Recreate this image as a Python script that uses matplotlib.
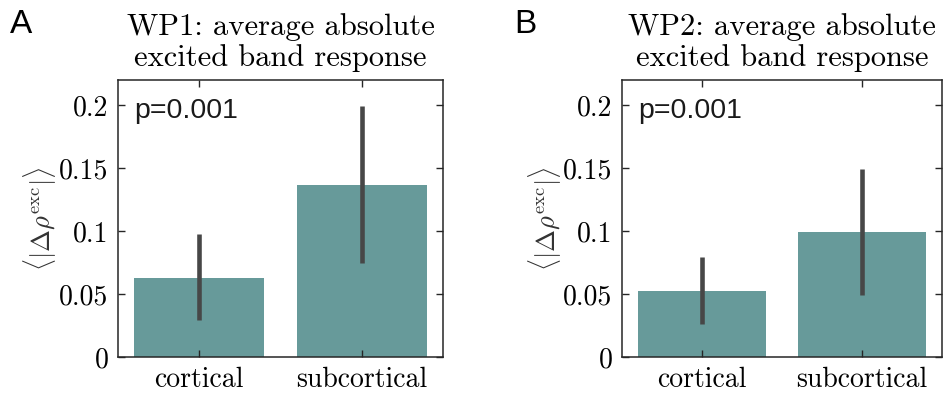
import matplotlib
matplotlib.use("Agg")
import matplotlib.pyplot as plt
import numpy as np

categories = ["cortical", "subcortical"]
titles = ["WP1: average absolute\nexcited band response",
          "WP2: average absolute\nexcited band response"]
panel_labels = ["A", "B"]
p_texts = ["p=0.001", "p=0.001"]
wp1_means = [0.063, 0.137]
wp1_low = [0.029, 0.075]
wp1_high = [0.098, 0.199]
wp2_means = [0.0525, 0.099]
wp2_low = [0.026, 0.0494]
wp2_high = [0.0794, 0.1496]
yticks = [0, 0.05, 0.1, 0.15, 0.2]
ytick_labels = ["0", "0.05", "0.1", "0.15", "0.2"]

plt.rcParams['font.family'] = ['cmr10', 'DejaVu Serif']
plt.rcParams['mathtext.fontset'] = 'cm'
plt.rcParams['axes.formatter.use_mathtext'] = True

fig = plt.figure(figsize=(9.43, 3.94), dpi=100)
W, H = 943, 394
axes_px = [(118, 443), (622, 942)]
top, bottom = 80, 357

bar_color = "#679a9a"
err_color = "#474747"
spine_color = "#262626"

data = [(wp1_means, wp1_low, wp1_high), (wp2_means, wp2_low, wp2_high)]
ylabel_x = [40, 545]
label_x = [10, 514]

for i, (x0, x1) in enumerate(axes_px):
    ax = fig.add_axes([x0 / W, 1 - bottom / H, (x1 - x0) / W, (bottom - top) / H])
    means, low, high = data[i]
    pos = np.arange(1, len(categories) + 1)
    ax.bar(pos, means, width=0.8, color=bar_color, zorder=1)
    yerr = np.array([np.array(means) - np.array(low), np.array(high) - np.array(means)])
    ax.errorbar(pos, means, yerr=yerr, fmt='none', ecolor=err_color,
                elinewidth=3.3, capsize=0, zorder=2)
    ax.set_xlim(0.5, 2.5)
    ax.set_ylim(0, 0.22)
    ax.set_xticks(pos)
    ax.set_xticklabels(categories, fontsize=20)
    ax.set_yticks(yticks)
    ax.set_yticklabels(ytick_labels, fontsize=20)
    ax.tick_params(direction='in', length=5, width=1, top=True, right=True,
                   color=spine_color, pad=7)
    for s in ax.spines.values():
        s.set_color(spine_color)
        s.set_linewidth(1.1)
    ax.set_title(titles[i], fontsize=22, linespacing=1.15, pad=10)
    fig.text(ylabel_x[i] / W, 1 - 219 / H, r"$\langle|\Delta\rho^{\rm exc}|\rangle$",
             rotation=90, ha='center', va='center', fontsize=19, color='#333333')
    ax.text(0.05, 0.935, p_texts[i], transform=ax.transAxes, ha='left', va='top',
            fontsize=20.5, family=['Liberation Sans', 'DejaVu Sans'], color='#1a1a1a')
    fig.text(label_x[i] / W, 1 - 9 / H, panel_labels[i], ha='left', va='top',
             fontsize=24, family=['Liberation Sans', 'DejaVu Sans'])

fig.savefig("out.png", dpi=100)
